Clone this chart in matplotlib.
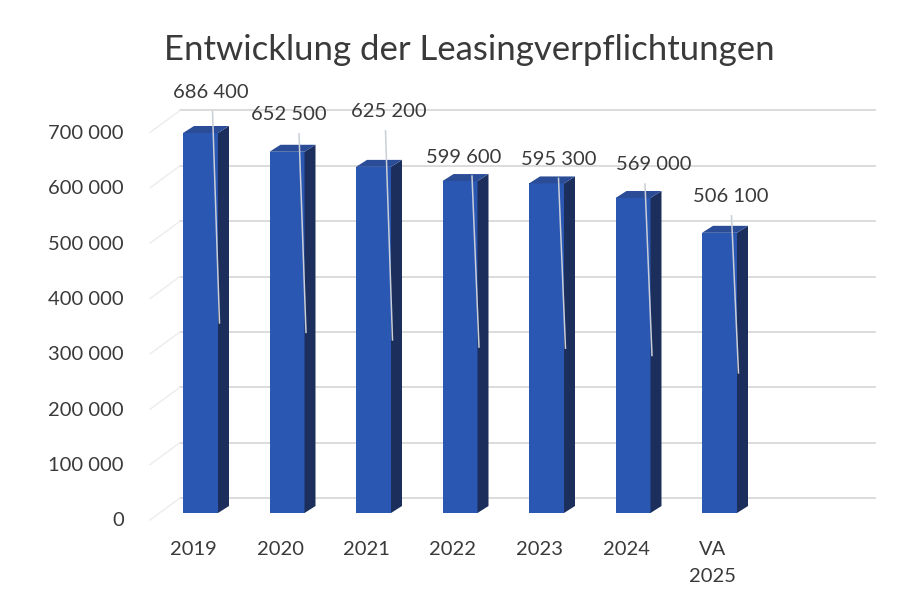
import matplotlib
matplotlib.use("Agg")
import matplotlib.pyplot as plt
from matplotlib.patches import Polygon

# data
years = ["2019", "2020", "2021", "2022", "2023", "2024", "VA\n2025"]
values = [686400, 652500, 625200, 599600, 595300, 569000, 506100]
value_labels = ["686 400", "652 500", "625 200", "599 600", "595 300", "569 000", "506 100"]
y_ticks = [0, 100000, 200000, 300000, 400000, 500000, 600000, 700000]
y_tick_labels = ["0", "100 000", "200 000", "300 000", "400 000", "500 000", "600 000", "700 000"]

## layout (pixels of the 913x614 picture) ##
W, H = 913, 614
PX_CAT = 86.5          # pixels per category
PX_VAL = 380 / 686400  # pixels per unit of value
X0, Y0 = 200.5, 513    # first bar centre / zero line of the bar fronts

BAR_W = 35 / PX_CAT
DEPTH_X, DEPTH_Y = 11, 7      # bar depth in pixels
FLOOR_X, FLOOR_Y = 30, 22     # depth of the floor / side wall

# hand placed data labels (dx, dy in pixels from bar top centre)
label_nudge = [(10, 41), (2, 37), (15, 55), (4, 24), (12, 24), (21, 33), (11, 36)]

FRONT = "#2a57b2"
SIDE = "#1b2e5c"
TOP = "#2b4d98"
GRID = "#d9d9d9"
TEXT = "#3a3a3a"

plt.rcParams['font.family'] = ['Lato', 'DejaVu Sans']


def px_x(p):
    return p / PX_CAT


def px_y(p):
    return p / PX_VAL


fig = plt.figure(figsize=(W / 100, H / 100), dpi=100)
ax = fig.add_axes([0, 0, 1, 1])
ax.set_xlim(-X0 / PX_CAT, (W - X0) / PX_CAT)
ax.set_ylim((Y0 - H) / PX_VAL, Y0 / PX_VAL)
ax.axis('off')

# back wall grid + left wall diagonals
left_front = px_x(150 - X0)
left_back = left_front + px_x(FLOOR_X)
right_back = px_x(875 - X0)
for v in y_ticks:
    yb = v + px_y(15)
    yf = v - px_y(7)
    ax.plot([left_back, right_back], [yb, yb], color=GRID, lw=1.3, zorder=1)
    ax.plot([left_front, left_back], [yf, yb], color="#ececec", lw=1.0, zorder=1)

# bars: front face through ax.bar, side and top faces as polygons
xs = list(range(len(values)))
ax.bar(xs, values, width=BAR_W, color=FRONT, zorder=3)
dx, dy = px_x(DEPTH_X), px_y(DEPTH_Y)
for x, v in zip(xs, values):
    r = x + BAR_W / 2
    l = x - BAR_W / 2
    side = Polygon([(r, 0), (r + dx, dy), (r + dx, v + dy), (r, v)],
                   closed=True, facecolor=SIDE, edgecolor="none", zorder=3)
    top = Polygon([(l, v), (r, v), (r + dx, v + dy), (l + dx, v + dy)],
                  closed=True, facecolor=TOP, edgecolor="none", zorder=3)
    ax.add_patch(side)
    ax.add_patch(top)

# data labels with their leader lines
for x, v, lab, (nx, ny) in zip(xs, values, value_labels, label_nudge):
    lx, ly = x + px_x(nx), v + px_y(ny)
    ax.text(lx, ly, lab, ha="center", va="center", fontsize=14.5, color=TEXT, zorder=5)
    ax.plot([x + px_x(12), x + px_x(19)], [ly - px_y(19), v * 0.5],
            color="#c9ced8", lw=1.1, zorder=4)

# axis labels
for v, lab in zip(y_ticks, y_tick_labels):
    ax.text(px_x(124 - X0), v - px_y(8), lab, ha="right", va="center",
            fontsize=14.5, color=TEXT)
for x, lab in zip(xs, years):
    ax.text(x - px_x(7), -px_y(28), lab, ha="center", va="top",
            fontsize=14.5, color=TEXT, linespacing=1.75)

ax.text(px_x(469 - X0), px_y(Y0 - 50), "Entwicklung der Leasingverpflichtungen",
        ha="center", va="center", fontsize=25, color=TEXT)

fig.savefig("out.png", dpi=100)
